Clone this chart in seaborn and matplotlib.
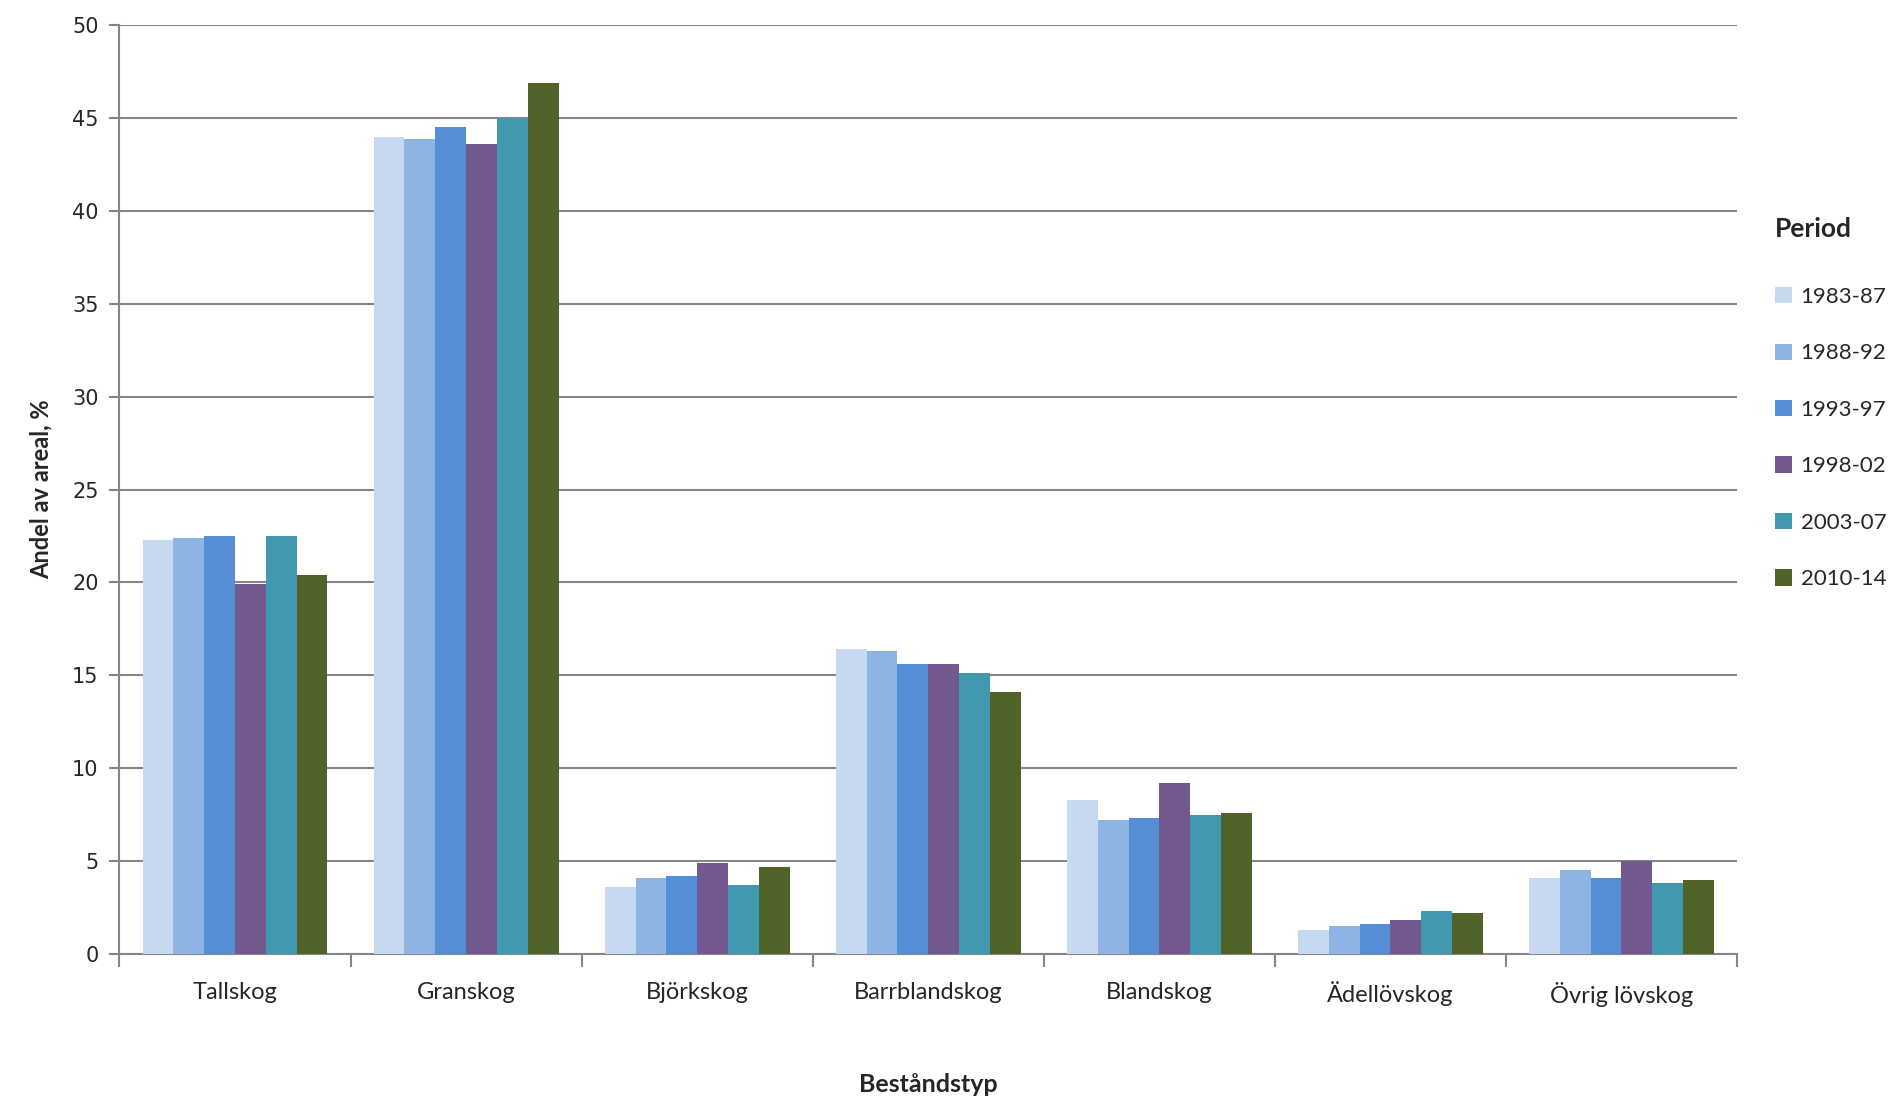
import matplotlib
matplotlib.use("Agg")
import matplotlib.pyplot as plt
import seaborn as sns
import pandas as pd
import numpy as np

categories = ["Tallskog", "Granskog", "Björkskog", "Barrblandskog", "Blandskog", "Ädellövskog", "Övrig lövskog"]
periods = ["1983-87", "1988-92", "1993-97", "1998-02", "2003-07", "2010-14"]
v_1983_87 = [22.3, 44.0, 3.6, 16.4, 8.3, 1.3, 4.1]
v_1988_92 = [22.4, 43.9, 4.1, 16.3, 7.2, 1.5, 4.5]
v_1993_97 = [22.5, 44.5, 4.2, 15.6, 7.3, 1.6, 4.1]
v_1998_02 = [19.9, 43.6, 4.9, 15.6, 9.2, 1.8, 5.0]
v_2003_07 = [22.5, 45.0, 3.7, 15.1, 7.5, 2.3, 3.8]
v_2010_14 = [20.4, 46.9, 4.7, 14.1, 7.6, 2.2, 4.0]
colors = ["#C6D9F1", "#8EB4E3", "#558ED5", "#71588F", "#4198AF", "#4F6228"]

series = [v_1983_87, v_1988_92, v_1993_97, v_1998_02, v_2003_07, v_2010_14]
rows = []
for p, vals in zip(periods, series):
    for c, v in zip(categories, vals):
        rows.append({"Beståndstyp": c, "Period": p, "Andel": v})
df = pd.DataFrame(rows)

sns.set_theme(style="white")
plt.rcParams["font.family"] = ["Lato", "DejaVu Sans"]

fig = plt.figure(figsize=(18.93, 10.98), dpi=100)
ax = fig.add_axes([0.0631, 0.1313, 0.9176 - 0.0631, 0.9769 - 0.1313])

sns.barplot(data=df, x="Beståndstyp", y="Andel", hue="Period", order=categories,
            hue_order=periods, palette=colors, saturation=1, width=0.8, linewidth=0,
            ax=ax, zorder=3, legend=True)

ax.set_ylim(0, 50)
ax.set_xlim(-0.5, len(categories) - 0.5)
ax.set_yticks(np.arange(0, 51, 5))
ax.yaxis.grid(True, color="#868686", linewidth=1.5, zorder=0)
ax.set_axisbelow(True)
ax.xaxis.grid(False)

for s in ["top", "right"]:
    ax.spines[s].set_visible(False)
for s in ["left", "bottom"]:
    ax.spines[s].set_color("#868686")
    ax.spines[s].set_linewidth(1.5)

ax.tick_params(axis="y", which="major", left=True, length=7, width=1.5, color="#868686",
               labelsize=15, pad=8)
for t in ax.get_yticklabels():
    t.set_fontfamily("DejaVu Sans")
ax.tick_params(axis="x", which="major", length=0, labelsize=17, pad=20)
ax.set_xticks(np.arange(-0.5, len(categories), 1.0), minor=True)
ax.tick_params(axis="x", which="minor", bottom=True, length=9, width=1.5, color="#868686")

ax.set_ylabel("Andel av areal, %", fontsize=17, fontweight="bold", labelpad=14)
ax.set_xlabel("Beståndstyp", fontsize=18, fontweight="bold", labelpad=48)

handles, labels = ax.get_legend_handles_labels()
leg = ax.legend(handles, labels, title="Period", loc="upper left",
                bbox_to_anchor=(1.018, 0.803), frameon=False, fontsize=16,
                title_fontproperties={"weight": "bold", "size": 19},
                handlelength=0.75, handleheight=0.75, handletextpad=0.4,
                labelspacing=1.64, alignment="left", borderaxespad=0)
leg._legend_box.sep = 33

fig.savefig("out.png", dpi=100)
